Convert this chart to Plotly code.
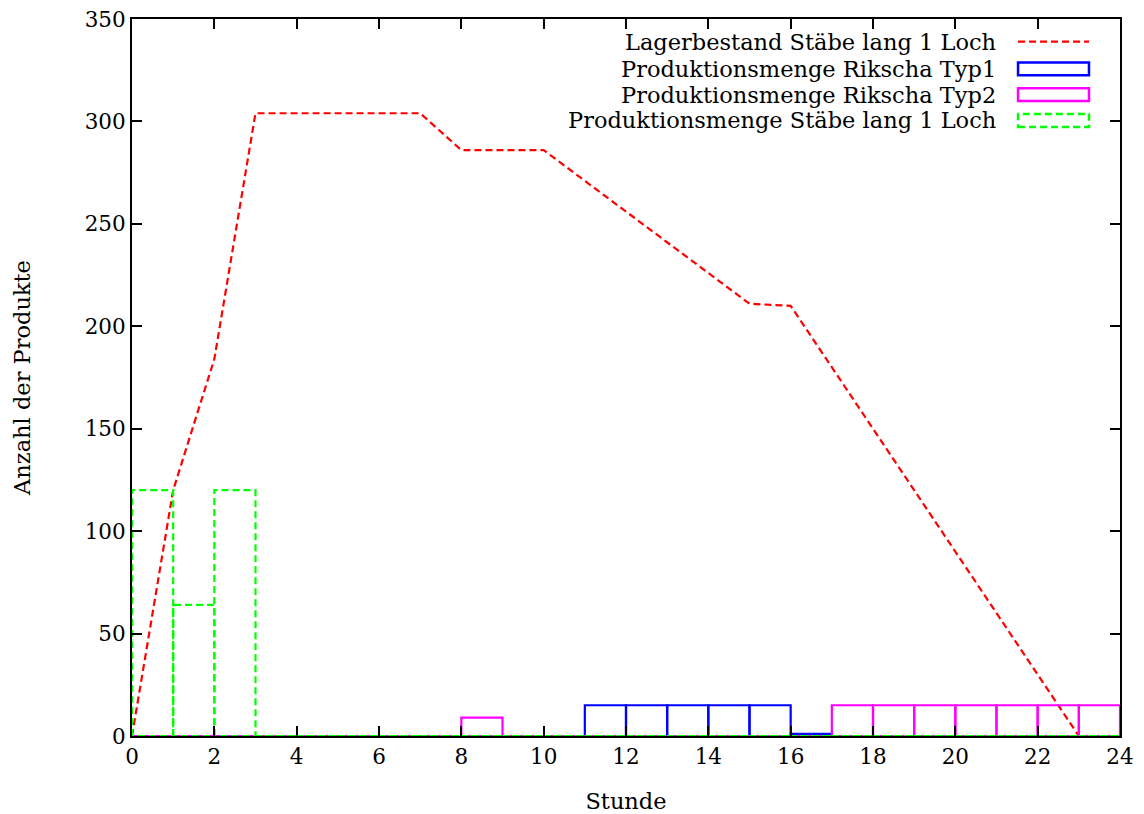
import plotly.graph_objects as go

hours = list(range(25))
lager = [0, 120, 184, 304, 304, 304, 304, 304, 286, 286, 286, 271, 256, 241, 226,
         211, 210, 180, 150, 120, 90, 60, 30, 0, 0]

box_hours = list(range(24))
typ1 = [0]*11 + [15, 15, 15, 15, 15, 1] + [0]*7
typ2 = [0]*8 + [9] + [0]*8 + [15]*7
staebe = [120, 64, 120] + [0]*21

names = ["Lagerbestand Stäbe lang 1 Loch", "Produktionsmenge Rikscha Typ1",
         "Produktionsmenge Rikscha Typ2", "Produktionsmenge Stäbe lang 1 Loch"]
colors = ["#ff0000", "#0000ff", "#ff00ff", "#00ff00"]

FONT = "DejaVu Serif"
TXT = 22.5
TICK = 21.5


def box_path(hs, vals):
    xs, ys = [], []
    for h, v in zip(hs, vals):
        xs += [h, h, h + 1, h + 1, h, None]
        ys += [0, v, v, 0, 0, None]
    return xs, ys


fig = go.Figure()
fig.add_trace(go.Scatter(x=hours, y=lager, mode="lines",
                         line=dict(color=colors[0], width=2.2, dash="7px,4px"),
                         name=names[0], showlegend=False))
for vals, col, nm, dash in [(typ1, colors[1], names[1], "solid"),
                            (typ2, colors[2], names[2], "solid"),
                            (staebe, colors[3], names[3], "7px,4px")]:
    xs, ys = box_path(box_hours, vals)
    fig.add_trace(go.Scatter(x=xs, y=ys, mode="lines",
                             line=dict(color=col, width=2.2, dash=dash),
                             name=nm, showlegend=False))

# manual gnuplot-style legend (text left of sample)
rows_y = [0.9685, 0.9305, 0.8945, 0.8585]
shapes = []
annotations = []
for i, (nm, col) in enumerate(zip(names, colors)):
    annotations.append(dict(x=0.8765, y=rows_y[i], xref="paper", yref="paper",
                            text=nm, showarrow=False, xanchor="right", yanchor="middle",
                            font=dict(family=FONT, size=TXT, color="black")))
    if i == 0:
        shapes.append(dict(type="line", xref="paper", yref="paper",
                           x0=0.8968, x1=0.9686, y0=rows_y[i], y1=rows_y[i],
                           line=dict(color=col, width=2.2, dash="7px,4px")))
    else:
        shapes.append(dict(type="rect", xref="paper", yref="paper",
                           x0=0.8968, x1=0.9686, y0=rows_y[i] - 0.009, y1=rows_y[i] + 0.009,
                           line=dict(color=col, width=2.5,
                                     dash="7px,4px" if i == 3 else "solid")))

axis_common = dict(showline=True, linecolor="black", linewidth=2, mirror="ticks",
                   ticks="inside", ticklen=10, tickwidth=1.5, tickcolor="black",
                   showgrid=False, zeroline=False, ticklabeloverflow="allow",
                   automargin=False,
                   tickfont=dict(family=FONT, size=TICK, color="black"))

fig.update_layout(
    width=1144, height=814,
    margin=dict(l=124, r=32, t=11, b=86),
    plot_bgcolor="white", paper_bgcolor="white",
    xaxis=dict(range=[0, 24], dtick=2, tick0=0,
               title=dict(text="Stunde", font=dict(family=FONT, size=TXT, color="black"), standoff=25),
               **axis_common),
    yaxis=dict(range=[0, 350], dtick=50, tick0=0,
               title=dict(text="Anzahl der Produkte", font=dict(family=FONT, size=TXT, color="black"), standoff=48),
               **axis_common),
    shapes=shapes, annotations=annotations, showlegend=False,
)

fig.write_html("out.html")
